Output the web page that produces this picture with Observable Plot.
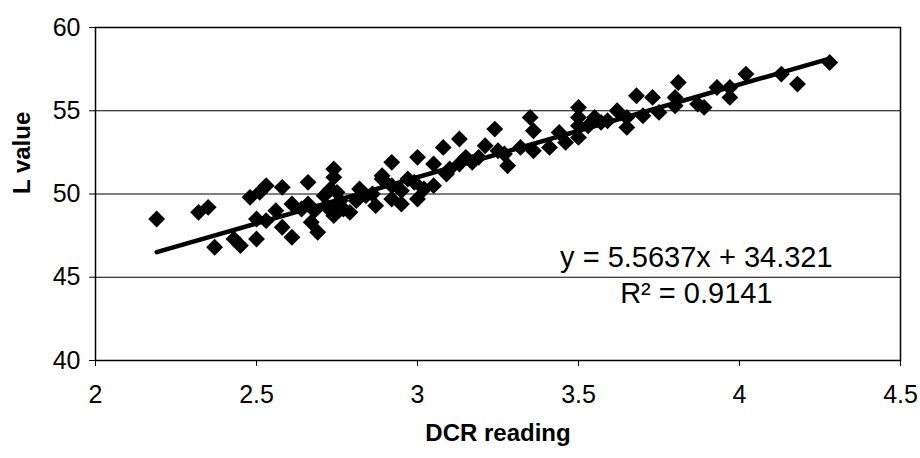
<!DOCTYPE html>
<html>
<head>
<meta charset="utf-8">
<script src="https://cdn.jsdelivr.net/npm/d3@7"></script>
<script src="https://cdn.jsdelivr.net/npm/@observablehq/plot@0.6"></script>
<style>
  html, body { margin: 0; padding: 0; background: #fff; }
  #chart { width: 920px; height: 458px; }
</style>
</head>
<body>
<div id="chart"></div>
<script>
// DCR reading (x) and L value (y)
const dcr = [
  2.19, 2.32, 2.35, 2.37, 2.43, 2.45, 2.50, 2.48, 2.51, 2.53,
  2.58, 2.66, 2.74, 2.74, 2.50, 2.53, 2.58, 2.61, 2.56, 2.61,
  2.66, 2.67, 2.69, 2.71, 2.74, 2.75, 2.77, 2.73, 2.76, 2.79,
  2.82, 2.81, 2.87, 2.89, 2.92, 2.92, 2.72, 2.68, 2.64, 3.00,
  3.08, 3.13, 3.24, 2.89, 2.92, 2.95, 3.00, 3.05, 2.97, 2.99,
  3.05, 3.09, 3.13, 3.15, 3.19, 3.21, 3.25, 3.28, 3.35, 3.50,
  3.50, 3.50, 3.50, 3.55, 3.62, 3.36, 3.27, 3.32, 3.36, 3.41,
  3.44, 3.53, 3.59, 3.65, 3.68, 3.73, 3.81, 3.80, 3.65, 3.70,
  3.75, 3.80, 3.87, 3.89, 3.93, 3.97, 3.97, 4.02, 4.13, 4.18,
  4.28, 2.74, 2.84, 2.95, 3.02, 3.10, 3.17, 2.86, 3.46, 3.57
];
const lValue = [
  48.5, 48.9, 49.2, 46.8, 47.3, 46.9, 47.3, 49.8, 50.1, 50.5,
  50.4, 50.7, 51.5, 51.0, 48.5, 48.4, 48.0, 47.4, 49.0, 49.4,
  49.4, 48.3, 47.7, 49.9, 49.1, 50.1, 49.1, 50.3, 49.6, 48.9,
  50.3, 49.6, 49.3, 51.1, 51.9, 50.5, 49.2, 49.0, 49.1, 52.2,
  52.8, 53.3, 53.9, 50.9, 49.7, 49.4, 49.7, 50.5, 50.9, 50.7,
  51.8, 51.2, 51.8, 52.2, 52.2, 52.9, 52.6, 51.7, 54.6, 55.2,
  54.6, 54.1, 53.4, 54.6, 55.0, 53.8, 52.4, 52.8, 52.6, 52.8,
  53.7, 54.1, 54.4, 54.6, 55.9, 55.8, 56.7, 55.8, 54.0, 54.7,
  54.9, 55.3, 55.4, 55.2, 56.4, 56.4, 55.8, 57.2, 57.2, 56.6,
  57.9, 48.7, 49.9, 50.2, 50.3, 51.5, 51.9, 50.0, 53.1, 54.3
];

// Trend line as labelled on the chart
const slope = 5.5637;
const intercept = 34.321;
const trendX = [2.19, 4.28];

// Axis ticks
const xTicks = [2, 2.5, 3, 3.5, 4, 4.5];
const yTicks = [40, 45, 50, 55, 60];
const gridTicks = [45, 50, 55];

// Labels
const xLabel = "DCR reading";
const yLabel = "L value";
const eqLines = ["y = 5.5637x + 34.321", "R² = 0.9141"];
const eqX = [3.866, 3.866];
const eqY = [46.2, 44.0];

const points = dcr.map((d, i) => ({x: d, y: lValue[i]}));
const trend = trendX.map(x => ({x, y: slope * x + intercept}));
const eqData = eqLines.map((t, i) => ({t, x: eqX[i], y: eqY[i]}));

const chart = Plot.plot({
  width: 920,
  height: 458,
  marginLeft: 95,
  marginRight: 20,
  marginTop: 27,
  marginBottom: 98,
  style: {fontFamily: "'Liberation Sans', Arial, sans-serif", fontSize: "25px", color: "#000", background: "#fff"},
  x: {domain: [2, 4.5]},
  y: {domain: [40, 60]},
  marks: [
    Plot.gridY(gridTicks, {stroke: "#000", strokeOpacity: 1, strokeWidth: 1}),
    Plot.axisX(xTicks, {tickSize: 6, tickPadding: 19, fontSize: 25, label: null, stroke: "#000", tickFormat: d => String(d)}),
    Plot.axisY(yTicks, {tickSize: 6, tickPadding: 9, fontSize: 25, label: null, stroke: "#000"}),
    Plot.frame({stroke: "#000", strokeWidth: 1.5}),
    Plot.line(trend, {x: "x", y: "y", stroke: "#000", strokeWidth: 4.5, strokeLinecap: "round"}),
    Plot.dot(points, {x: "x", y: "y", symbol: "diamond2", r: 7.6, fill: "#000", stroke: "none"}),
    Plot.text(eqData, {x: "x", y: "y", text: "t", fontSize: 29, fill: "#000"}),
    Plot.text([xLabel], {frameAnchor: "bottom", dy: 80, fontSize: 24, fontWeight: "bold", fill: "#000"}),
    Plot.text([yLabel], {frameAnchor: "left", dx: -73, rotate: -90, fontSize: 24, fontWeight: "bold", fill: "#000"})
  ]
});
document.getElementById("chart").appendChild(chart);
</script>
</body>
</html>
